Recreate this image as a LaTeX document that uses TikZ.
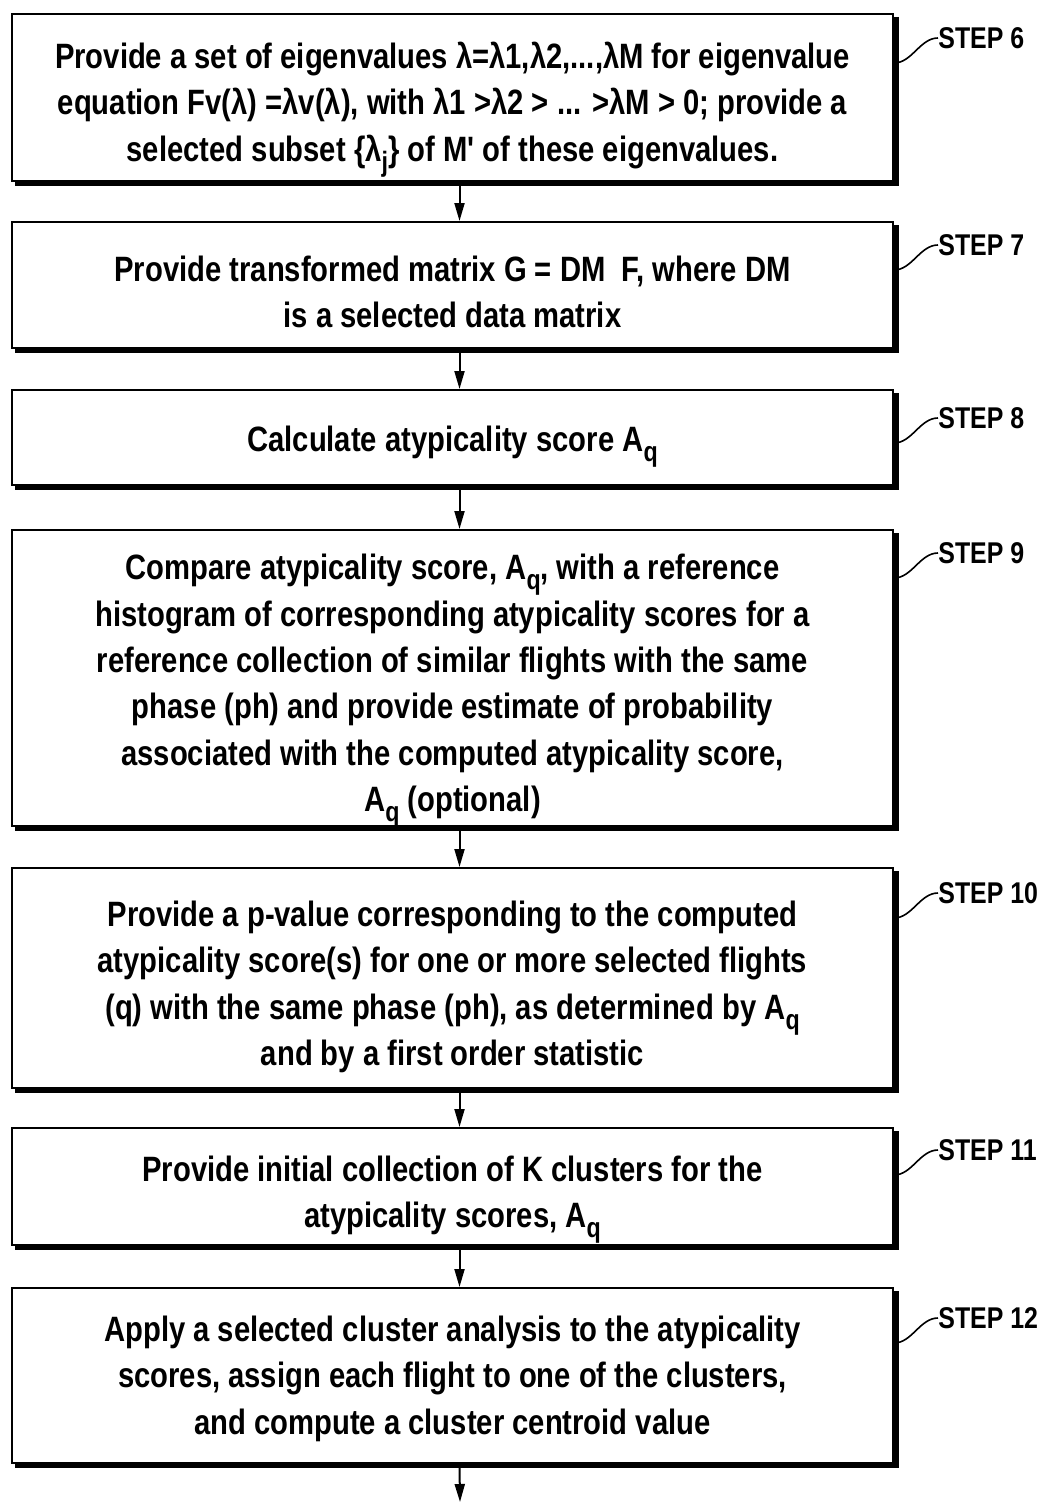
\documentclass[tikz,border=0pt]{standalone}
\usepackage{fontspec}
\setmainfont{Liberation Sans}[UprightFont=*-Bold,FakeStretch=0.83,Ligatures=TeXOff]
\usetikzlibrary{arrows.meta,calc}
\newcommand\sbq[1]{\raisebox{-0.55ex}{\fontsize{14pt}{14pt}\selectfont #1}}
\begin{document}
\begin{tikzpicture}[x=0.5pt,y=-0.5pt,
  stepbox/.style={draw,line width=1pt,minimum width=440.5pt,inner sep=0pt},
  steptext/.style={inner sep=0pt,align=center,font=\fontsize{17.6pt}{23.2pt}\selectfont},
  arr/.style={line width=1pt,-{Triangle[length=9pt,width=5pt]}},
  lbl/.style={anchor=west,inner sep=0pt,font=\fontsize{15pt}{17pt}\selectfont},
  leader/.style={line width=0.8pt}]
\useasboundingbox (0,0) rectangle (1048,1504);
\fill[white] (0,0) rectangle (1048,1504);

\node[stepbox,minimum height=83.5pt] (b1) at (452.5,97.5) {};
\node[steptext] (t1) at ([yshift=-6pt]b1.center)
 {Provide a set of eigenvalues λ=λ1,λ2,...,λM for eigenvalue\\
  equation Fv(λ) =λv(λ), with λ1 >λ2 > ... >λM > 0; provide a\\
  selected subset \{λ\sbq{j}\} of M' of these eigenvalues.};
\node[stepbox,minimum height=63pt] (b2) at (452.5,285) {};
\node[steptext] (t2) at ([yshift=-3.5pt]b2.center)
 {Provide transformed matrix G = DM~~F, where DM\\ is a selected data matrix};
\node[stepbox,minimum height=47.5pt] (b3) at (452.5,437.5) {};
\node[steptext] (t3) at ([yshift=-4.5pt]b3.center)
 {Calculate atypicality score A\sbq{q}};
\node[stepbox,minimum height=148pt] (b4) at (452.5,678) {};
\node[steptext] (t4) at ([yshift=-6.5pt]b4.center)
 {Compare atypicality score, A\sbq{q}, with a reference\\
  histogram of corresponding atypicality scores for a\\
  reference collection of similar flights with the same\\
  phase (ph) and provide estimate of probability\\
  associated with the computed atypicality score,\\
  A\sbq{q} (optional)};
\node[stepbox,minimum height=110pt] (b5) at (452.5,978) {};
\node[steptext] (t5) at ([yshift=-4.5pt]b5.center)
 {Provide a p-value corresponding to the computed\\
  atypicality score(s) for one or more selected flights\\
  (q) with the same phase (ph), as determined by A\sbq{q}\\
  and by a first order statistic};
\node[stepbox,minimum height=58.5pt] (b6) at (452.5,1186.5) {};
\node[steptext] (t6) at ([yshift=-6.5pt]b6.center)
 {Provide initial collection of K clusters for the\\ atypicality scores, A\sbq{q}};
\node[stepbox,minimum height=87.5pt] (b7) at (452.5,1375.5) {};
\node[steptext] (t7) at ([yshift=-1.5pt]b7.center)
 {Apply a selected cluster analysis to the atypicality\\
  scores, assign each flight to one of the clusters,\\
  and compute a cluster centroid value};
\coordinate (end) at (460,1502);

\foreach \n in {b1,b2,b3,b4,b5,b6,b7}
  \draw[line width=2.2pt] ([shift={(1.2pt,-2pt)}]\n.north east) -- ([shift={(1.2pt,-1.1pt)}]\n.south east)
     -- ([shift={(2pt,-1.1pt)}]\n.south west);

\draw[arr] ([xshift=3.5pt]b1.south) -- ([xshift=3.5pt]b2.north);
\draw[arr] ([xshift=3.5pt]b2.south) -- ([xshift=3.5pt]b3.north);
\draw[arr] ([xshift=3.5pt]b3.south) -- ([xshift=3.5pt]b4.north);
\draw[arr] ([xshift=3.5pt]b4.south) -- ([xshift=3.5pt]b5.north);
\draw[arr] ([xshift=3.5pt]b5.south) -- ([xshift=3.5pt]b6.north);
\draw[arr] ([xshift=3.5pt]b6.south) -- ([xshift=3.5pt]b7.north);
\draw[arr] ([xshift=3.5pt]b7.south) -- (end);

\foreach \n/\s/\t/\ly in {b1/s6/6/38, b2/s7/7/245, b3/s8/8/418, b4/s9/9/553,
                          b5/s10/10/893, b6/s11/11/1150, b7/s12/12/1318} {
  \node[lbl] (\s) at (938,\ly) {STEP \t};
  \coordinate (c\s) at (900,\ly+25);
  \draw[leader] (\n.east |- c\s) .. controls ($(\n.east |- c\s)+(18,0)$) and ($(\s.west)+(-18,0)$) .. (\s.west);
}
\end{tikzpicture}
\end{document}
